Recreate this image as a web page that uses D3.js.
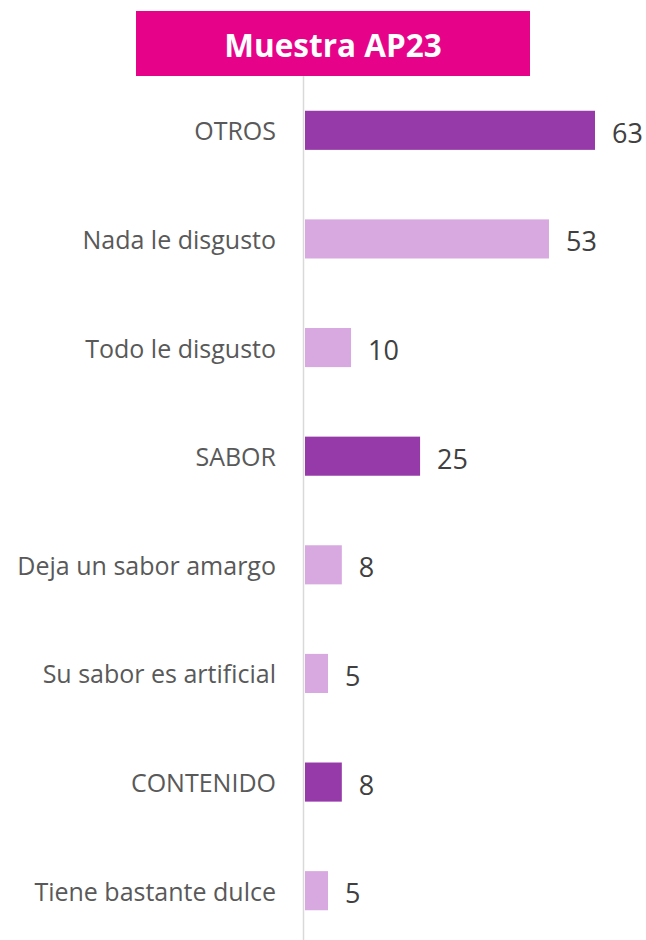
<!DOCTYPE html>
<html><head><meta charset="utf-8">
<script src="https://cdn.jsdelivr.net/npm/d3@7"></script>
<style>body{margin:0;background:#fff;}</style>
</head><body>
<svg id="c" width="646" height="940"></svg>
<script>
const categories = ["OTROS","Nada le disgusto","Todo le disgusto","SABOR","Deja un sabor amargo","Su sabor es artificial","CONTENIDO","Tiene bastante dulce"];
const values = [63,53,10,25,8,5,8,5];
const isGroup = [true,false,false,true,false,false,true,false];
const title = "Muestra AP23";

const svg = d3.select("#c");
const x0 = 305;
const x = d3.scaleLinear().domain([0,63]).range([x0,595]);
const y = d3.scaleBand().domain(categories).range([76,945]).paddingInner(0.64).paddingOuter(0.32);

svg.append("rect").attr("x",136).attr("y",11).attr("width",394).attr("height",65).attr("fill","#E6038A");
svg.append("text").attr("x",333).attr("y",44).attr("text-anchor","middle").attr("dominant-baseline","central")
  .attr("fill","#fff").attr("font-family","Open Sans").attr("font-weight","bold").attr("font-size",31.5).text(title);

svg.append("line").attr("x1",303.5).attr("x2",303.5).attr("y1",76).attr("y2",940).attr("stroke","#d9d9d9").attr("stroke-width",1.5);

svg.selectAll("rect.bar").data(categories).join("rect").attr("class","bar")
  .attr("x",x0).attr("y",d=>y(d)).attr("height",y.bandwidth())
  .attr("width",(d,i)=>x(values[i])-x0)
  .attr("fill",(d,i)=>isGroup[i]?"#953AA8":"#D8A8E0");

svg.selectAll("text.val").data(categories).join("text").attr("class","val")
  .attr("x",(d,i)=>x(values[i])+17).attr("y",d=>y(d)+y.bandwidth()/2+2)
  .attr("dominant-baseline","central").attr("fill","#404040")
  .attr("font-family","Open Sans").attr("font-size",27).text((d,i)=>values[i]);

svg.selectAll("text.cat").data(categories).join("text").attr("class","cat")
  .attr("x",276).attr("y",d=>y(d)+y.bandwidth()/2)
  .attr("text-anchor","end").attr("dominant-baseline","central").attr("fill","#595959")
  .attr("font-family","Open Sans").attr("font-size",25).text(d=>d);
</script>
</body></html>
